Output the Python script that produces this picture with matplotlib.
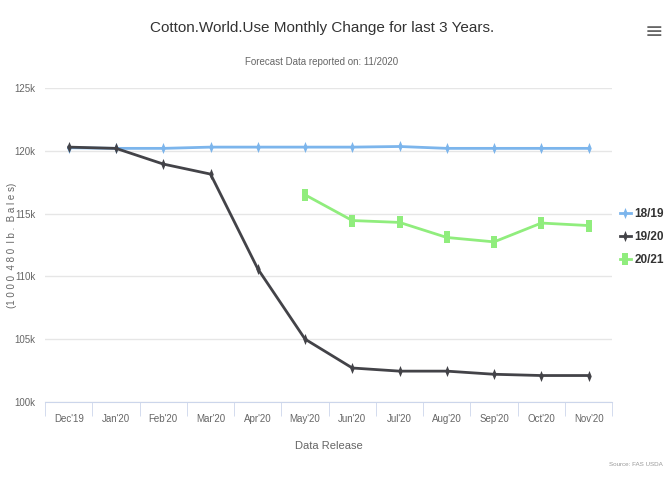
import matplotlib
matplotlib.use("Agg")
import matplotlib.pyplot as plt
from matplotlib.ticker import FuncFormatter, FixedLocator

# chart data
months = ["Dec'19", "Jan'20", "Feb'20", "Mar'20", "Apr'20", "May'20",
          "Jun'20", "Jul'20", "Aug'20", "Sep'20", "Oct'20", "Nov'20"]
use_1819 = [120.25, 120.2, 120.2, 120.3, 120.3, 120.3, 120.3, 120.35, 120.2, 120.2, 120.2, 120.2]
use_1920 = [120.3, 120.2, 118.95, 118.15, 110.6, 105.0, 102.7, 102.45, 102.45, 102.2, 102.1, 102.1]
use_2021 = [None, None, None, None, None, 116.5, 114.45, 114.3, 113.1, 112.75, 114.25, 114.05]

plt.rcParams["font.family"] = "Liberation Sans"

# narrow marker shapes (chart looks squeezed horizontally)
thin_diamond = [(0, 1), (0.4, 0), (0, -1), (-0.4, 0), (0, 1)]
tall_rect = [(-0.5, 1), (0.5, 1), (0.5, -1), (-0.5, -1), (-0.5, 1)]

fig = plt.figure(figsize=(6.64, 4.79), dpi=100)
ax = fig.add_axes([0.068, 0.161, 0.854, 0.655])

x = list(range(len(months)))
x21 = [i for i, v in zip(x, use_2021) if v is not None]
y21 = [v for v in use_2021 if v is not None]

ax.plot(x, use_1819, color="#7cb5ec", lw=2, marker=thin_diamond, ms=8, mew=0, label="18/19")
ax.plot(x, use_1920, color="#434348", lw=2, marker=thin_diamond, ms=8, mew=0, label="19/20")
ax.plot(x21, y21, color="#90ed7d", lw=2, marker=tall_rect, ms=8, mew=0, label="20/21")

ax.set_xlim(-0.5, len(months) - 0.5)
ax.set_ylim(100, 125)
ax.set_yticks([100, 105, 110, 115, 120, 125])
ax.yaxis.set_major_formatter(FuncFormatter(lambda v, p: f"{int(v)}k"))
ax.set_xticks(x)
ax.set_xticklabels(months)
ax.xaxis.set_minor_locator(FixedLocator([i - 0.5 for i in range(len(months) + 1)]))

ax.grid(axis="y", color="#e6e6e6", lw=1)
ax.set_axisbelow(True)
for s in ["top", "right", "left"]:
    ax.spines[s].set_visible(False)
ax.spines["bottom"].set_color("#ccd6eb")
ax.tick_params(axis="x", which="major", length=0, labelsize=7, colors="#666666", pad=9)
ax.tick_params(axis="x", which="minor", length=10, color="#ccd6eb")
ax.tick_params(axis="y", length=0, labelsize=7, colors="#666666", pad=7)

ax.set_xlabel("Data Release", fontsize=8, color="#666666", labelpad=12)
fig.text(12 / 664, 1 - 245 / 479, "(1 0 0 0  4 8 0  l b .  B a l e s)", rotation=90,
         ha="center", va="center", fontsize=7, color="#666666")

fig.text(0.485, 1 - 28 / 479, "Cotton.World.Use Monthly Change for last 3 Years.",
         ha="center", va="center", fontsize=11, color="#333333")
fig.text(0.485, 1 - 62 / 479, "Forecast Data reported on: 11/2020",
         ha="center", va="center", fontsize=7, color="#666666")
fig.text(663 / 664, 1 - 465 / 479, "Source: FAS USDA", ha="right", va="center",
         fontsize=4.5, color="#999999")
fig.text(663 / 664, 1 - 32 / 479, "\u2261", ha="right", va="center", fontsize=16,
         color="#666666", family="DejaVu Sans")

leg = fig.legend(loc="center left", bbox_to_anchor=(620 / 664, 1 - 237 / 479), frameon=False,
                 fontsize=8.5, handlelength=0.9, handletextpad=0.3, labelspacing=0.95,
                 borderaxespad=0, borderpad=0)
for t in leg.get_texts():
    t.set_color("#333333")
    t.set_fontweight("bold")

fig.savefig("out.png", dpi=100)
